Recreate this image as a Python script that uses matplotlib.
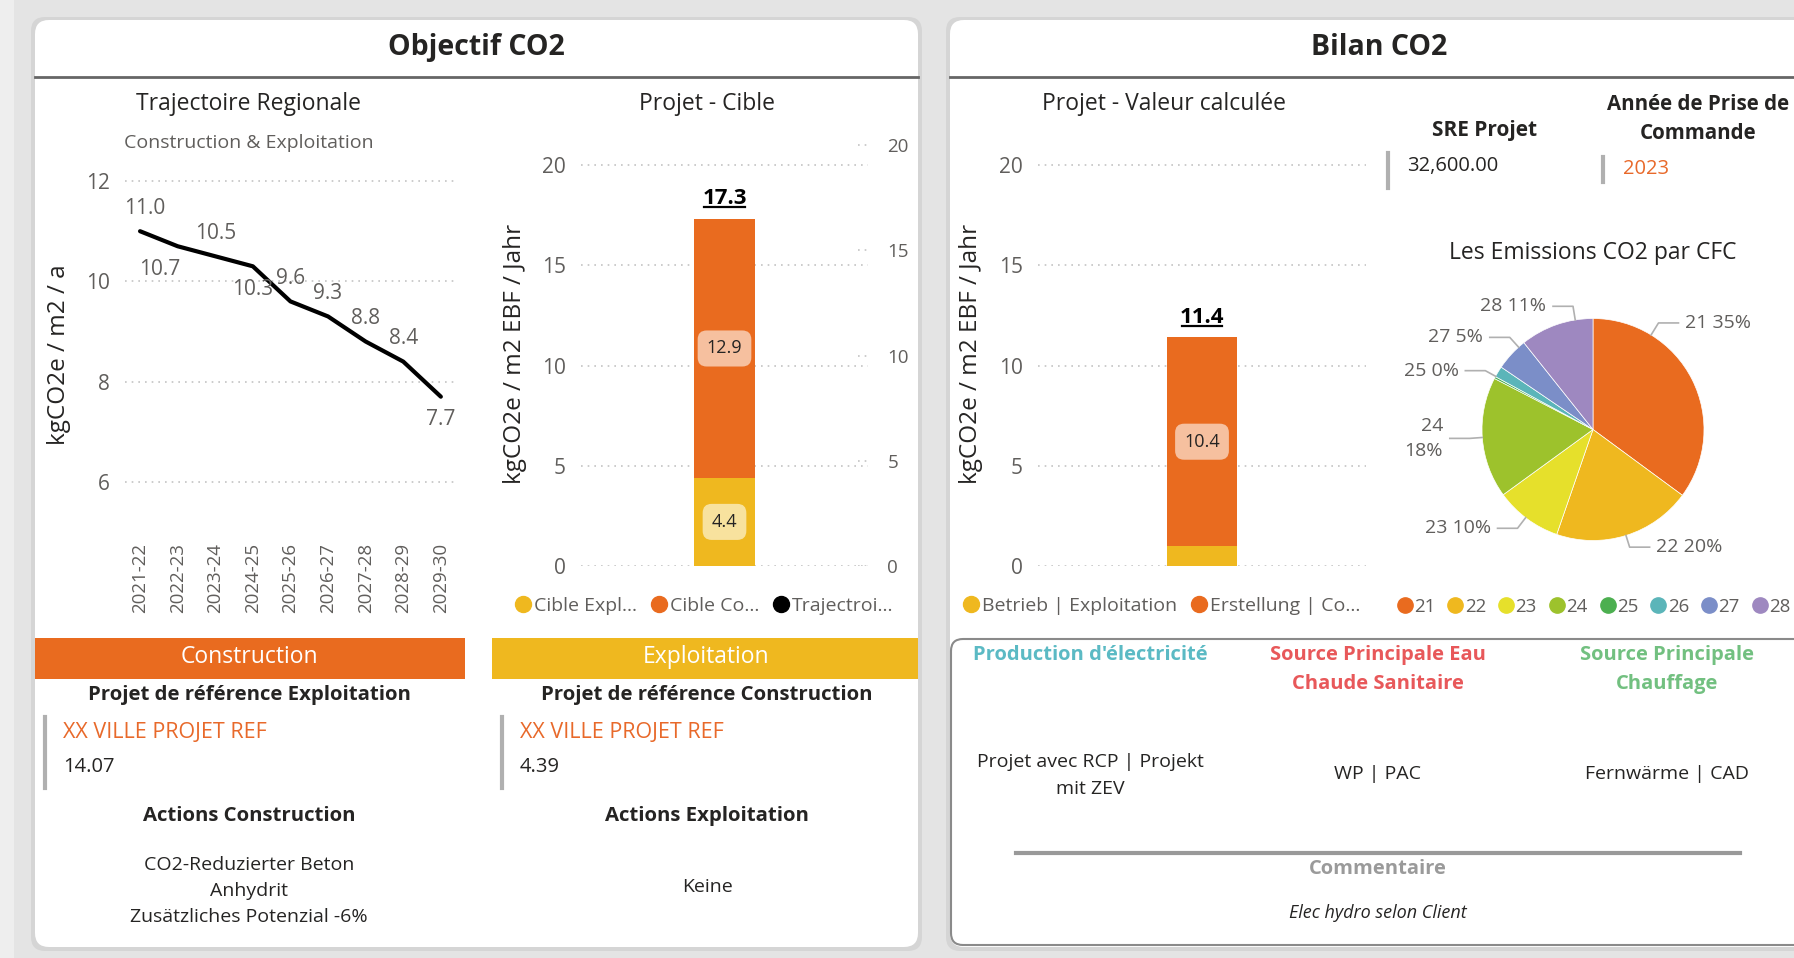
import matplotlib
matplotlib.use('Agg')
import matplotlib.pyplot as plt
from matplotlib.patches import FancyBboxPatch
from matplotlib.lines import Line2D
import numpy as np

plt.rcParams['font.family'] = ['Open Sans', 'DejaVu Sans']

# ---- data ----
years = ['2021-22', '2022-23', '2023-24', '2024-25', '2025-26',
         '2026-27', '2027-28', '2028-29', '2029-30']
trajectoire = [11.0, 10.7, 10.5, 10.3, 9.6, 9.3, 8.8, 8.4, 7.7]

cible_labels = ['Cible Expl...', 'Cible Co...', 'Trajectroi...']
cible_exploitation = [4.4]
cible_construction = [12.9]

calc_labels = ['Betrieb | Exploitation', 'Erstellung | Co...']
calc_exploitation = [1.0]
calc_construction = [10.4]

cfc_codes = ['21', '22', '23', '24', '25', '26', '27', '28']
cfc_share = [35.1, 20.2, 9.7, 17.6, 0.3, 1.6, 4.8, 10.7]

sre_projet = 32600.00
annee_commande = 2023
ref_exploitation = 14.07
ref_construction = 4.39
actions_construction = ['CO2-Reduzierter Beton', 'Anhydrit', 'Zusätzliches Potenzial -6%']
actions_exploitation = ['Keine']

# colours
ORANGE = '#E96B1F'
YELLOW = '#EFB81F'
cfc_colors = ['#E96B1F', '#EFB81F', '#E6E02B', '#9DC22C',
              '#4CAF50', '#5BB5B9', '#7B8EC8', '#9E88C0']
TXT = '#252423'
GREY = '#605E5C'
REFCOL = '#E8692A'

W, H = 1794, 958
fig = plt.figure(figsize=(W / 100, H / 100), dpi=100, facecolor='#e4e4e4')


def fbox(x0, y0, x1, y1):
    # pixel box (top-left origin) -> figure fraction
    return [x0 / W, 1 - y1 / H, (x1 - x0) / W, (y1 - y0) / H]


# background layer in pixel coordinates
bg = fig.add_axes([0, 0, 1, 1], zorder=-5)
bg.set_xlim(0, W)
bg.set_ylim(H, 0)
bg.axis('off')


def card(x0, y0, x1, y1, r=14, **kw):
    bg.add_patch(FancyBboxPatch((x0, y0), x1 - x0, y1 - y0,
                                boxstyle=f'round,pad=0,rounding_size={r}', **kw))


def txt(x, y, s, size, color=TXT, weight='normal', ha='center', **kw):
    return bg.text(x, y, s, fontsize=size, color=color, fontweight=weight,
                   ha=ha, va='center', **kw)


bg.add_patch(plt.Rectangle((0, 0), 14, H, fc='#eeeeee', ec='none'))
card(31, 17, 922, 951, fc='#cfcfcf', ec='none', alpha=0.7)
card(946, 17, 1830, 951, fc='#cfcfcf', ec='none', alpha=0.7)
card(35, 20, 918, 947, fc='white', ec='none')
card(950, 20, 1830, 947, fc='white', ec='none')
bg.plot([35, 918], [77, 77], color='#666666', lw=2)
bg.plot([950, 1794], [77, 77], color='#666666', lw=2)
txt(476, 47, 'Objectif CO2', 20.5, weight='bold')
txt(1379, 47, 'Bilan CO2', 20.5, weight='bold')

# ---- Trajectoire Regionale (line) ----
txt(249, 104, 'Trajectoire Regionale', 16.5)
txt(249, 143, 'Construction & Exploitation', 14, color=GREY)
txt(59, 355, 'kgCO2e / m2 / a', 17.5, rotation=90)

ax1 = fig.add_axes(fbox(125, 160, 454, 510), facecolor='none')
x = np.arange(len(years))
ax1.plot(x, trajectoire, color='black', lw=3, solid_capstyle='round')
ax1.set_xlim(-0.40, 8.35)
ax1.set_ylim(5.44, 12.42)
ax1.set_yticks([6, 8, 10, 12])
ax1.set_xticks(x, years, rotation=90)
ax1.tick_params(axis='y', length=0, pad=11, labelsize=15, labelcolor=GREY)
ax1.tick_params(axis='x', length=0, pad=24, labelsize=13.5, labelcolor=GREY)
ax1.yaxis.grid(True, linestyle=(0, (1, 3)), color='#c4c4c4', lw=1.2)
ax1.set_axisbelow(True)
for s in ax1.spines.values():
    s.set_visible(False)
lab_dy = [1, -1, 1, -1, 1, 1, 1, 1, -1]
lab_dx = [3, -13, 0, 0, 0, 0, 0, 0, 0]
for xi, v, dy, dx in zip(x, trajectoire, lab_dy, lab_dx):
    ax1.annotate(f'{v:.1f}', (xi, v), xytext=(dx, 16.5 * dy),
                 textcoords='offset points', ha='center', va='center',
                 fontsize=15, color=GREY)


# ---- stacked single bars ----
def stacked_bar(box, bottom_vals, top_vals, width, labels, legend_x, colsp):
    ax = fig.add_axes(fbox(*box), facecolor='none')
    ax.bar([0], bottom_vals, width=width, color=YELLOW)
    ax.bar([0], top_vals, bottom=bottom_vals, width=width, color=ORANGE)
    ax.set_xlim(-0.5, 0.5)
    ax.set_ylim(0, 21.25)
    ax.set_yticks([0, 5, 10, 15, 20])
    ax.set_xticks([])
    ax.tick_params(axis='y', length=0, pad=11, labelsize=15, labelcolor=GREY)
    ax.yaxis.grid(True, linestyle=(0, (1, 3)), color='#c4c4c4', lw=1.2)
    ax.set_axisbelow(True)
    for s in ax.spines.values():
        s.set_visible(False)
    b, t = bottom_vals[0], top_vals[0]
    if b > 3:
        ax.text(0, b / 2, f'{b:.1f}', ha='center', va='center', fontsize=13,
                color=TXT, bbox=dict(boxstyle='round,pad=0.5,rounding_size=0.5',
                                     fc='#F8E29E', ec='none'))
    ax.text(0, b + t / 2, f'{t:.1f}', ha='center', va='center', fontsize=13,
            color=TXT, bbox=dict(boxstyle='round,pad=0.5,rounding_size=0.5',
                                 fc='#F6C09F', ec='none'))
    tot = ax.annotate(f'{b + t:.1f}', (0, b + t), xytext=(0, 7),
                      textcoords='offset points', ha='center', va='bottom',
                      fontsize=16, fontweight='bold', color='black')
    cols = [YELLOW, ORANGE, 'black'][:len(labels)]
    handles = [Line2D([], [], ls='', marker='o', markersize=11.5, color=c) for c in cols]
    ax.legend(handles, labels, loc='center left', ncol=len(labels),
              bbox_to_anchor=(legend_x / W, 1 - 606 / H), bbox_transform=fig.transFigure,
              frameon=False, fontsize=14, labelcolor=GREY, handlelength=0.7,
              handletextpad=0.2, columnspacing=colsp, borderaxespad=0, borderpad=0)
    return ax, tot


txt(707, 104, 'Projet - Cible', 16.5)
txt(515, 354, 'kgCO2e / m2 EBF / Jahr', 17.5, rotation=90)
ax2, tot2 = stacked_bar((581, 140, 868, 566), cible_exploitation, cible_construction,
                        0.2125, cible_labels, 516, 0.8)
tw = ax2.twinx()
tw.set_ylim(0, 20.24)
tw.set_yticks([0, 5, 10, 15, 20])
tw.tick_params(axis='y', length=0, pad=14, labelsize=13.5, labelcolor=GREY)
tw.hlines([0, 5, 10, 15, 20], 0.965, 1.0, transform=tw.get_yaxis_transform(),
          linestyle=(0, (1, 3)), color='#c4c4c4', lw=1.2)
for s in tw.spines.values():
    s.set_visible(False)

txt(1164, 104, 'Projet - Valeur calculée', 16.5)
txt(971, 354, 'kgCO2e / m2 EBF / Jahr', 17.5, rotation=90)
ax3, tot3 = stacked_bar((1038, 140, 1366, 566), calc_exploitation, calc_construction,
                        0.216, calc_labels, 964, 0.8)

# ---- KPI cards ----
txt(1485, 130, 'SRE Projet', 15, weight='bold')
bg.plot([1388, 1388], [153, 188], color='#b0b0b0', lw=3)
txt(1407, 166, f'{sre_projet:,.2f}', 14.5, ha='left')
txt(1698, 104, 'Année de Prise de', 14.8, weight='bold')
txt(1698, 133, 'Commande', 14.8, weight='bold')
bg.plot([1603, 1603], [157, 182], color='#b0b0b0', lw=3)
txt(1623, 169, f'{annee_commande}', 14.5, color=REFCOL, ha='left')

# ---- pie ----
txt(1593, 253, 'Les Emissions CO2 par CFC', 16.5)
pax = fig.add_axes(fbox(1593 - 166.5, 429.5 - 166.5, 1593 + 166.5, 429.5 + 166.5),
                   facecolor='none')
wedges, _ = pax.pie(cfc_share, colors=cfc_colors, startangle=90, counterclock=False,
                    wedgeprops=dict(linewidth=0.5, edgecolor='white'))
pax.set_xlim(-1.5, 1.5)
pax.set_ylim(-1.5, 1.5)
pct = np.array(cfc_share) / sum(cfc_share) * 100
# label layout: elbow point of leader line and side (+1 text right, -1 text left)
pie_layout = {'21': (0.59, 0.96, 1), '22': (0.33, -1.06, 1), '23': (-0.68, -0.89, -1),
              '24': (-1.11, -0.08, -1), '25': (-0.97, 0.53, -1), '27': (-0.75, 0.83, -1),
              '28': (-0.18, 1.11, -1)}
for code, p in zip(cfc_codes, pct):
    if code not in pie_layout:
        continue
    ex, ey, side = pie_layout[code]
    n = np.hypot(ex, ey)
    pax.plot([ex / n, ex, ex + 0.18 * side], [ey / n, ey, ey], color='#b0b0b0', lw=1.2,
             clip_on=False)
    s = f'{code}\n{p:.0f}%' if code == '24' else f'{code} {p:.0f}%'
    pax.text(ex + 0.24 * side, ey, s, ha='left' if side > 0 else 'right', va='center',
             fontsize=14, color=GREY, linespacing=1.45)
ph = [Line2D([], [], ls='', marker='o', markersize=11, color=c) for c in cfc_colors]
pax.legend(ph, cfc_codes, loc='center left', ncol=8,
           bbox_to_anchor=(1398 / W, 1 - 607 / H), bbox_transform=fig.transFigure,
           frameon=False, fontsize=13.5, labelcolor=GREY, handlelength=0.7,
           handletextpad=0.15, columnspacing=0.72, borderaxespad=0, borderpad=0)

# ---- bottom left blocks ----
bg.add_patch(plt.Rectangle((35, 638), 430, 41, fc=ORANGE, ec='none'))
bg.add_patch(plt.Rectangle((492, 638), 426, 41, fc=YELLOW, ec='none'))
txt(249, 657, 'Construction', 16.5, color='white')
txt(706, 657, 'Exploitation', 16.5, color='white')

for cx, bx, title, val, act_title, acts in [
        (249, 45, 'Projet de référence Exploitation', ref_exploitation,
         'Actions Construction', actions_construction),
        (707, 502, 'Projet de référence Construction', ref_construction,
         'Actions Exploitation', actions_exploitation)]:
    txt(cx, 695, title, 14.7, weight='bold')
    bg.plot([bx, bx], [717, 788], color='#b0b0b0', lw=3)
    txt(bx + 18, 733, 'XX VILLE PROJET REF', 15.5, color=REFCOL, ha='left')
    txt(bx + 18, 767, f'{val:.2f}', 14.5, ha='left')
    txt(cx, 816, act_title, 14.7, weight='bold')
    if len(acts) > 1:
        for i, a in enumerate(acts):
            txt(cx, 865 + 26 * i, a, 14)
    else:
        txt(cx, 887, acts[0], 14)

# ---- bottom right block ----
card(951, 639, 1830, 945, r=12, fc='white', ec='#8a8a8a', lw=1.5)
txt(1090, 655, "Production d'électricité", 14.5, color='#5BBAC4', weight='bold')
txt(1378, 655, 'Source Principale Eau', 14.5, color='#E8585A', weight='bold')
txt(1378, 684, 'Chaude Sanitaire', 14.5, color='#E8585A', weight='bold')
txt(1667, 655, 'Source Principale', 14.5, color='#72C080', weight='bold')
txt(1667, 684, 'Chauffage', 14.5, color='#72C080', weight='bold')
txt(1090, 762, 'Projet avec RCP | Projekt', 14)
txt(1090, 789, 'mit ZEV', 14)
txt(1378, 774, 'WP | PAC', 14)
txt(1667, 774, 'Fernwärme | CAD', 14)
bg.plot([1016, 1740], [853, 853], color='#999999', lw=3)
txt(1378, 869, 'Commentaire', 14.5, color='#9a9a9a', weight='bold')
txt(1378, 913, 'Elec hydro selon Client', 13, style='italic')

# underline the totals
fig.canvas.draw()
inv = bg.transData.inverted()
for t in (tot2, tot3):
    bb = t.get_window_extent()
    (x0, yb), (x1, _) = inv.transform([(bb.x0, bb.y0), (bb.x1, bb.y0)])
    bg.plot([x0 + 2, x1 - 2], [yb - 2, yb - 2], color='black', lw=1.6)

fig.savefig('out.png', dpi=100, facecolor=fig.get_facecolor())
